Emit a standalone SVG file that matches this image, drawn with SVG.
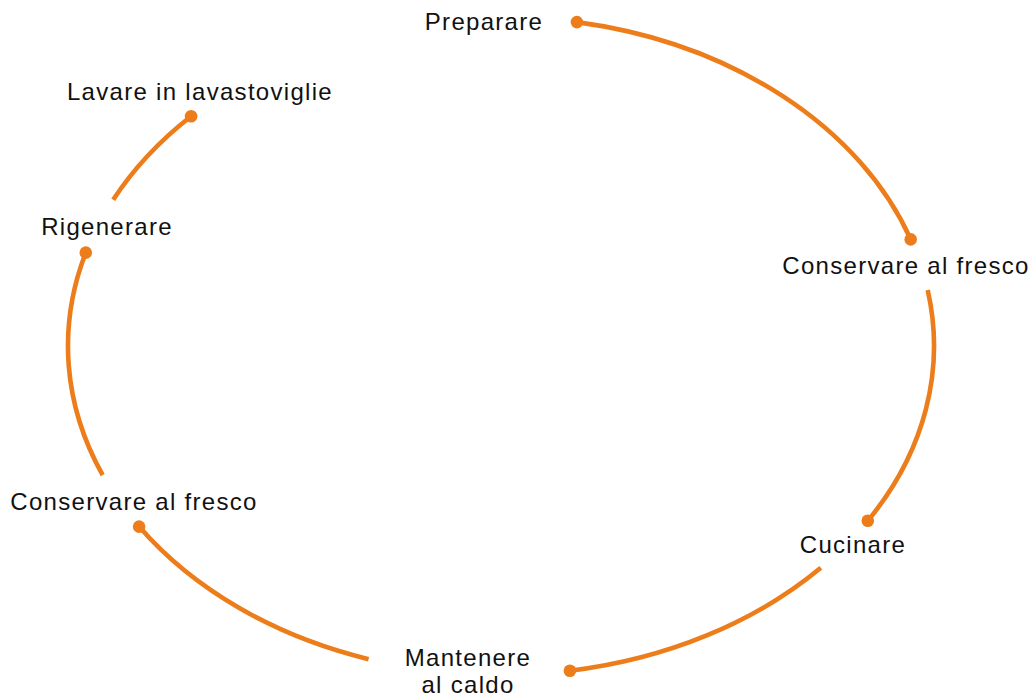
<svg xmlns="http://www.w3.org/2000/svg" width="1035" height="700" viewBox="0 0 1035 700">
<style>
.arc{fill:none;stroke:#ED7D1A;stroke-width:4.6;stroke-linecap:butt}
.dot{fill:#ED7D1A}
.lbl{font-family:"Liberation Sans",Arial,sans-serif;font-size:24px;letter-spacing:1.3px;fill:#111;text-anchor:middle}
</style>
<rect width="1035" height="700" fill="#fff"/>
<g id="connectors">
<path class="arc" d="M576.9,22.1 A433,329 0 0 1 910.7,239.4"/>
<path class="arc" d="M927.7,290 A433,329 0 0 1 867.8,520.8"/>
<path class="arc" d="M820.8,567.8 A433,329 0 0 1 569.9,670.8"/>
<path class="arc" d="M368.6,659.2 A433,329 0 0 1 139.1,526.6"/>
<path class="arc" d="M102.7,475.1 A433,329 0 0 1 85.8,252.6"/>
<path class="arc" d="M113.2,199.7 A433,329 0 0 1 191.1,116.2"/>
<circle class="dot" cx="576.9" cy="22.1" r="6.3"/>
</g>
<g id="n-preparare"><text class="lbl" x="484" y="30">Preparare</text></g>
<g id="n-conservare1"><circle class="dot" cx="910.7" cy="239.4" r="6.3"/><text class="lbl" x="906" y="274">Conservare al fresco</text></g>
<g id="n-cucinare"><circle class="dot" cx="867.8" cy="520.8" r="6.3"/><text class="lbl" x="853" y="553">Cucinare</text></g>
<g id="n-mantenere"><circle class="dot" cx="569.9" cy="670.8" r="6.3"/><text class="lbl" x="468" y="666">Mantenere</text><text class="lbl" x="468" y="693">al caldo</text></g>
<g id="n-conservare2"><circle class="dot" cx="139.1" cy="526.6" r="6.3"/><text class="lbl" x="134" y="510">Conservare al fresco</text></g>
<g id="n-rigenerare"><circle class="dot" cx="85.8" cy="252.6" r="6.3"/><text class="lbl" x="107" y="235">Rigenerare</text></g>
<g id="n-lavare"><circle class="dot" cx="191.1" cy="116.2" r="6.3"/><text class="lbl" x="200" y="100">Lavare in lavastoviglie</text></g>
</svg>
